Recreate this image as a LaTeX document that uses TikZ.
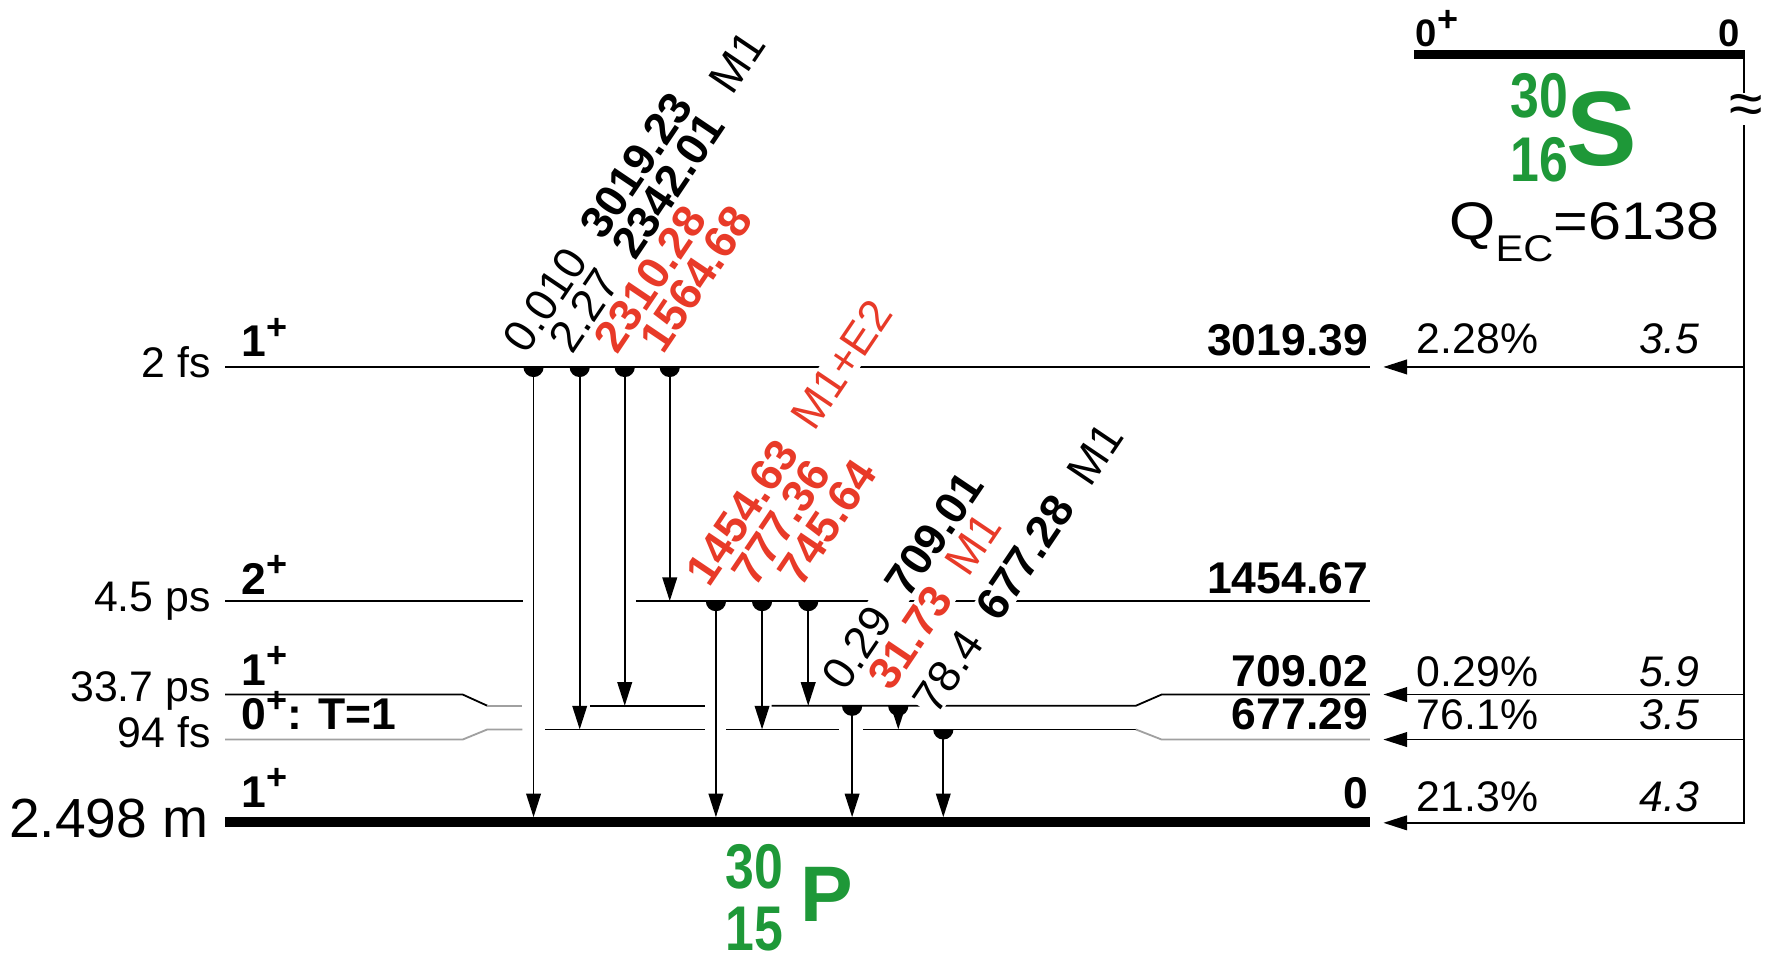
\documentclass[tikz,border=0pt]{standalone}
\usepackage{fontspec}
\setmainfont{Liberation Sans}
\usetikzlibrary{arrows.meta}
\definecolor{gred}{RGB}{232,58,40}
\definecolor{ngreen}{RGB}{30,152,56}
\definecolor{lgray}{RGB}{160,160,160}
\newcommand\pplus{\raisebox{0.40em}{\fontsize{32}{32}\selectfont\bfseries +}}
\newcommand\lgap{\hspace{0.55em}}
\newcommand\rb[1]{\textcolor{gred}{\bfseries #1}}
\newcommand\rr[1]{\textcolor{gred}{#1}}
\newcommand\halfdot[2]{\fill (#1-9,#2) .. controls (#1-9,#2+5) and (#1-5,#2+9) .. (#1,#2+9) .. controls (#1+5,#2+9) and (#1+9,#2+5) .. (#1+9,#2) -- cycle;}
\begin{document}
\begin{tikzpicture}[x=1pt,y=-1pt,line width=1.6pt,
  gam/.style={line width=1.6pt,-{Triangle[length=21pt,width=13pt]}},
  txt/.style={inner sep=0pt,font=\fontsize{38}{40}\selectfont},
  txtb/.style={inner sep=0pt,font=\fontsize{39.5}{40}\selectfont\bfseries},
  txti/.style={inner sep=0pt,font=\fontsize{38}{40}\selectfont\itshape},
  glab/.style={rotate=56,anchor=base west,inner sep=1pt,fill=white,font=\fontsize{40}{40}\selectfont},
  grn/.style={inner sep=0pt,text=ngreen,font=\fontsize{46}{46}\selectfont\bfseries,anchor=base west},
]
\fill[white] (0,0) rectangle (1568,850);
\useasboundingbox (0,0) rectangle (1568,850);

% ---- levels of 30P
\draw (200,326) -- (1217,326);
\draw (200,534) -- (465,534); \draw (565,534) -- (1217,534);
\draw (200,617) -- (411,617) -- (433,627); \draw[lgray] (433,627) -- (464,627);
\draw (524,627) -- (626,627); \draw (685.5,627) -- (1009,627) -- (1032,617) -- (1217,617);
\draw[lgray] (200,657) -- (411,657) -- (433,648) -- (464,648);
\draw (484.5,648) -- (626,648); \draw (645,648) -- (745,648);
\draw (767,648) -- (1009,648); \draw[lgray] (1009,648) -- (1032,657) -- (1217,657);
\draw[line width=8.5pt] (200,730) -- (1217,730);

% ---- parent 30S
\draw[line width=8.3pt] (1256,48.6) -- (1549.8,48.6);
\draw[gam] (1549,48.6) -- (1549,731) -- (1229,731);
\draw[gam] (1549,326) -- (1229,326);
\draw[gam] (1549,617) -- (1229,617);
\draw[gam] (1549,657) -- (1229,657);
\node[inner sep=1pt,fill=white,font=\fontsize{54}{54}\selectfont] (apx) at (1551,97) {≈};

% ---- gamma rays
\draw[gam] (474,326) -- (474,726); \halfdot{474}{326}
\draw[gam] (515,326) -- (515,648); \halfdot{515}{326}
\draw[gam] (555,326) -- (555,627); \halfdot{555}{326}
\draw[gam] (595,326) -- (595,534); \halfdot{595}{326}
\draw[gam] (636,534) -- (636,726); \halfdot{636}{534}
\draw[gam] (677,534) -- (677,648); \halfdot{677}{534}
\draw[gam] (718,534) -- (718,627); \halfdot{718}{534}
\draw[gam] (757,627) -- (757,726); \halfdot{757}{627}
\draw[gam] (798,627) -- (798,648); \halfdot{798}{627}
\draw[gam] (838,648) -- (838,726); \halfdot{838}{648}

% ---- gamma labels (white boxes cut the level lines)
\node[glab] (g1) at (467,317) {0.010\lgap\textbf{3019.23}};
\node[glab] (g1m) at (650,87) {M1};
\node[glab] (g2) at (508,317) {2.27\lgap\textbf{2342.01}};
\node[glab] (g3) at (548,317) {\rb{2310.28}};
\node[glab] (g4) at (588,317) {\rb{1564.68}};
\node[glab] (g5) at (629,524) {\rb{1454.63}\lgap\rr{M1+E2}};
\node[glab] (g6) at (670,524) {\rb{777.36}};
\node[glab] (g7) at (711,524) {\rb{745.64}};
\node[glab] (g8) at (750,617) {0.29\lgap\textbf{709.01}};
\node[glab] (g9) at (791,617) {\rb{31.73}\lgap\rr{M1}};
\node[glab] (g10) at (831,638) {78.4\lgap\textbf{677.28}\lgap M1};

% ---- left labels
\node[txt,anchor=base east] (lt1) at (188,335) {2 fs};
\node[txt,anchor=base east] (lt2) at (188,543) {4.5 ps};
\node[txt,anchor=base east] (lt3) at (188,623) {33.7 ps};
\node[txt,anchor=base east] (lt4) at (188,664.5) {94 fs};
\node[inner sep=0pt,font=\fontsize{49}{50}\selectfont,anchor=base east] (lt5) at (186,744) {2.498 m};
\node[txtb,anchor=base west] (sp1) at (214,317) {1\pplus};
\node[txtb,anchor=base west] (sp2) at (214,528) {2\pplus};
\node[txtb,anchor=base west] (sp3) at (214,609) {1\pplus};
\node[txtb,anchor=base west] (sp4) at (214,648.5) {0\pplus: T=1};
\node[txtb,anchor=base west] (sp5) at (214,717) {1\pplus};

% ---- energies
\node[txtb,anchor=base east] (e1) at (1216,315.4) {3019.39};
\node[txtb,anchor=base east] (e2) at (1216,527) {1454.67};
\node[txtb,anchor=base east] (e3) at (1216,610) {709.02};
\node[txtb,anchor=base east] (e4) at (1216,648.5) {677.29};
\node[txtb,anchor=base east] (e5) at (1216,718) {0};

% ---- branching and log ft
\node[txt,anchor=base west] (b1) at (1258,314) {2.28\%};
\node[txt,anchor=base west] (b2) at (1258,610) {0.29\%};
\node[txt,anchor=base west] (b3) at (1258,648.5) {76.1\%};
\node[txt,anchor=base west] (b4) at (1258,721) {21.3\%};
\node[txti,anchor=base east] (f1) at (1510,314) {3.5};
\node[txti,anchor=base east] (f2) at (1510,610) {5.9};
\node[txti,anchor=base east] (f3) at (1510,648.5) {3.5};
\node[txti,anchor=base east] (f4) at (1510,721) {4.3};

% ---- parent labels
\node[inner sep=0pt,font=\fontsize{34}{36}\selectfont\bfseries,anchor=base west] (pj) at (1257,41.5) {0\pplus};
\node[inner sep=0pt,font=\fontsize{34}{36}\selectfont\bfseries,anchor=base east] (pe) at (1546,41.5) {0};
\node[grn] (sa) at (1341,104) {\scalebox{1}[1.22]{30}};
\node[grn] (sz) at (1341,161) {\scalebox{1}[1.22]{16}};
\node[inner sep=0pt,text=ngreen,font=\fontsize{94}{94}\selectfont\bfseries,anchor=base west] (ss) at (1391,147) {S};
\node[inner sep=0pt,font=\fontsize{47}{47}\selectfont,anchor=base west] (q) at (1287,213) {\scalebox{1.12}[1]{Q\raisebox{-19pt}{\fontsize{33}{33}\selectfont EC}=6138}};

% ---- daughter label
\node[grn] (pa) at (644,789) {\scalebox{1}[1.22]{30}};
\node[grn] (pz) at (644,844) {\scalebox{1}[1.22]{15}};
\node[inner sep=0pt,text=ngreen,font=\fontsize{70}{70}\selectfont\bfseries,anchor=base west] (pp) at (710,819) {P};
\end{tikzpicture}
\end{document}
